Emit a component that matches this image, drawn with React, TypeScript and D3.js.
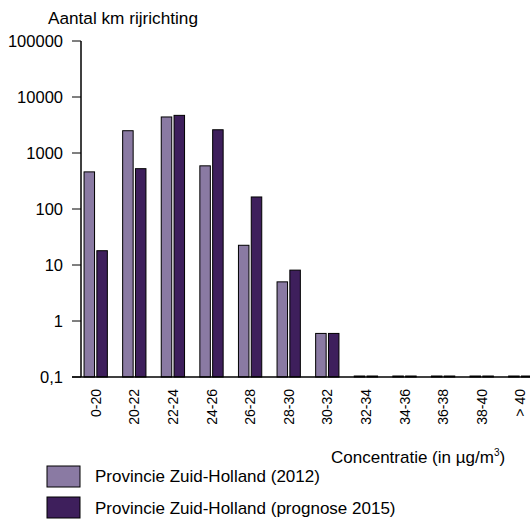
import React from "react";
import * as d3 from "d3";

const categories = ["0-20", "20-22", "22-24", "24-26", "26-28", "28-30", "30-32", "32-34", "34-36", "36-38", "38-40", "> 40"];
const series2012 = [460, 2500, 4400, 590, 22.5, 5, 0.6, 0, 0, 0, 0, 0];
const series2015 = [18, 525, 4700, 2600, 164, 8.1, 0.6, 0, 0, 0, 0, 0];
const yTicks = [0.1, 1, 10, 100, 1000, 10000, 100000];
const yTickLabels = ["0,1", "1", "10", "100", "1000", "10000", "100000"];
const seriesNames = ["Provincie Zuid-Holland (2012)", "Provincie Zuid-Holland (prognose 2015)"];
const colors = ["#8a7aa3", "#3e1f5c"];

export default function App() {
  const W = 530, H = 519;
  const axisX = 81;
  const y = d3.scaleLog().domain([0.1, 100000]).range([377, 41]);
  const x = d3.scaleBand().domain(categories).range([76.4, 76.4 + 12 * 38.6]).paddingInner(0).paddingOuter(0);
  const barW = 10.5;
  const gap = 2.3;
  const font = "Liberation Sans, Arial, sans-serif";
  const barRect = (v: number, cx: number, color: string, key: string) => {
    const top = v > 0.1 ? y(v) : y(0.1) - 1;
    return <rect key={key} x={cx} y={top} width={barW} height={y(0.1) - top} fill={color} stroke="#000" strokeWidth={1} />;
  };
  return (
    <svg width={W} height={H} style={{ display: "block", position: "absolute", left: 0, top: 0 }} fontFamily={font}>
      <rect width={W} height={H} fill="#fff" />
      <text x={48} y={24} fontSize={17.2}>Aantal km rijrichting</text>
      {categories.map((c, i) => {
        const cx = (x(c) as number) + x.bandwidth() / 2;
        return (
          <g key={c}>
            {barRect(series2012[i], cx - gap / 2 - barW, colors[0], "a")}
            {barRect(series2015[i], cx + gap / 2, colors[1], "b")}
            <text transform={`translate(${cx + 5},389) rotate(-90)`} textAnchor="end" fontSize={14}>{c}</text>
          </g>
        );
      })}
      <line x1={axisX} x2={axisX} y1={41} y2={377} stroke="#000" strokeWidth={1.5} />
      <line x1={72} x2={W} y1={377} y2={377} stroke="#000" strokeWidth={1.5} />
      {yTicks.map((t, i) => (
        <g key={t}>
          <line x1={72} x2={axisX} y1={y(t)} y2={y(t)} stroke="#000" strokeWidth={1} />
          <text x={63} y={y(t) + 6} textAnchor="end" fontSize={16.5}>{yTickLabels[i]}</text>
        </g>
      ))}
      <text x={331} y={463} fontSize={17}>Concentratie (in µg/m<tspan dy={-7} fontSize={10}>3</tspan><tspan dy={7}>)</tspan></text>
      {seriesNames.map((n, i) => (
        <g key={n}>
          <rect x={47} y={466 + i * 31} width={33} height={21} fill={colors[i]} stroke="#000" strokeWidth={1} />
          <text x={95} y={482 + i * 32} fontSize={17}>{n}</text>
        </g>
      ))}
    </svg>
  );
}
